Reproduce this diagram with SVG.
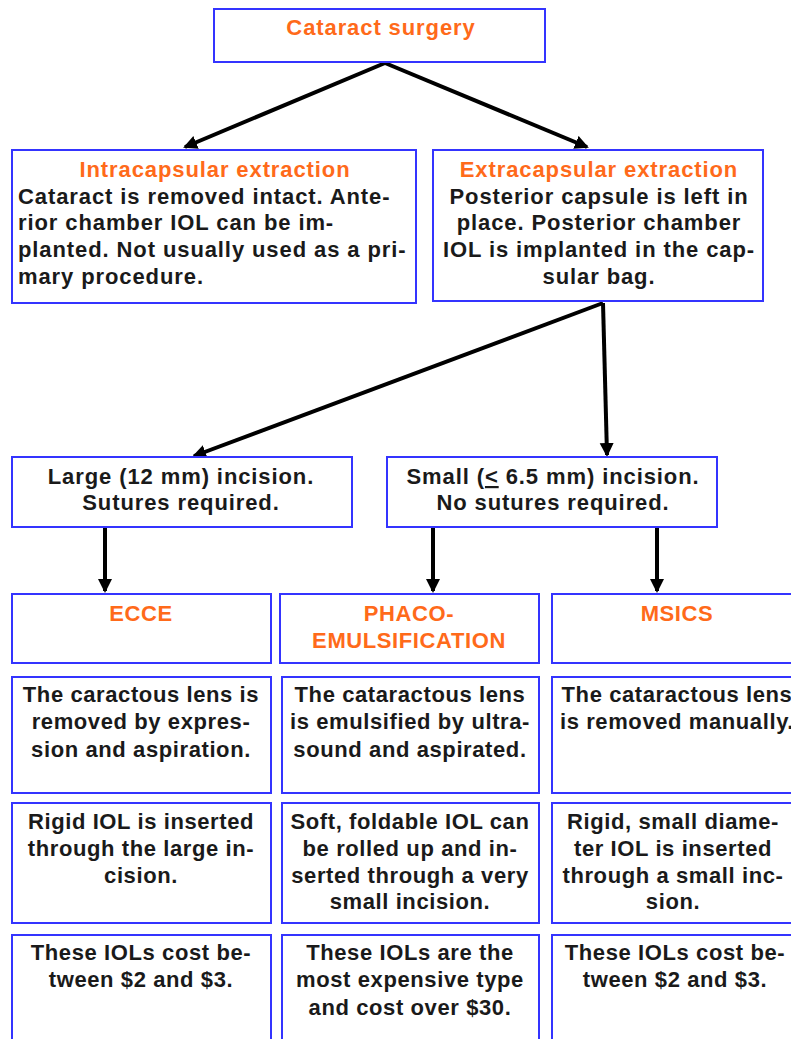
<svg xmlns="http://www.w3.org/2000/svg" width="791" height="1039" viewBox="0 0 791 1039">
<style>
.box{fill:#ffffff;stroke:#3434ff;stroke-width:2}
.t{font-family:"Liberation Sans",Arial,sans-serif;font-weight:bold;font-size:22px;fill:#1a1a1a;letter-spacing:0.9px}
.b{font-family:"Liberation Sans",Arial,sans-serif;font-weight:bold;font-size:22px;fill:#1a1a1a;letter-spacing:0.6px;text-anchor:middle}
.o{fill:#ff6a1a}
.m{text-anchor:middle}
.c{stroke:#000;stroke-width:4;fill:none;marker-end:url(#ah)}
</style>
<defs>
<marker id="ah" markerUnits="userSpaceOnUse" markerWidth="16" markerHeight="16" refX="12" refY="7" orient="auto">
<path d="M0,0 L14,7 L0,14 z" fill="#000"/>
</marker>
</defs>
<rect width="791" height="1039" fill="#ffffff"/>
<g id="connectors">
<line class="c" x1="385" y1="63" x2="185" y2="147"/>
<line class="c" x1="385" y1="63" x2="587" y2="147"/>
<line class="c" x1="603" y1="303" x2="194" y2="456"/>
<line class="c" x1="603" y1="303" x2="607" y2="455"/>
<line class="c" x1="105" y1="527" x2="105" y2="591"/>
<line class="c" x1="433" y1="527" x2="433" y2="591"/>
<line class="c" x1="657" y1="527" x2="657" y2="591"/>
</g>
<g id="n-cataract">
<rect class="box" x="214" y="9" width="331" height="53"/>
<text class="t o m" x="381" y="35">Cataract surgery</text>
</g>
<g id="n-intra">
<rect class="box" x="12" y="150" width="404" height="153"/>
<text class="t o m" x="215" y="177">Intracapsular extraction</text>
<text class="t" x="18" y="204">Cataract is removed intact. Ante-</text>
<text class="t" x="18" y="230">rior chamber IOL can be im-</text>
<text class="t" x="18" y="257">planted. Not usually used as a pri-</text>
<text class="t" x="18" y="284">mary procedure.</text>
</g>
<g id="n-extra">
<rect class="box" x="433" y="150" width="330" height="151"/>
<text class="t o m" x="599" y="177">Extracapsular extraction</text>
<text class="t m" x="599" y="204">Posterior capsule is left in</text>
<text class="t m" x="599" y="230">place. Posterior chamber</text>
<text class="t m" x="599" y="257">IOL is implanted in the cap-</text>
<text class="t m" x="599" y="284">sular bag.</text>
</g>
<g id="n-large">
<rect class="box" x="12" y="457" width="340" height="70"/>
<text class="t m" x="181" y="484">Large (12 mm) incision.</text>
<text class="t m" x="181" y="510">Sutures required.</text>
</g>
<g id="n-small">
<rect class="box" x="387" y="457" width="330" height="70"/>
<text class="t m" x="553" y="484">Small (<tspan text-decoration="underline">&lt;</tspan> 6.5 mm) incision.</text>
<text class="t m" x="553" y="510">No sutures required.</text>
</g>
<g id="n-ecce">
<rect class="box" x="12" y="594" width="259" height="69"/>
<text class="b o" x="141" y="621">ECCE</text>
</g>
<g id="n-phaco">
<rect class="box" x="280" y="594" width="259" height="69"/>
<text class="b o" x="409" y="621">PHACO-</text>
<text class="b o" x="409" y="648">EMULSIFICATION</text>
</g>
<g id="n-msics">
<rect class="box" x="552" y="594" width="250" height="69"/>
<text class="b o" x="677" y="621">MSICS</text>
</g>
<g id="n-ecce-lens">
<rect class="box" x="12" y="677" width="259" height="116"/>
<text class="b" x="141" y="702">The caractous lens is</text>
<text class="b" x="141" y="729">removed by expres-</text>
<text class="b" x="141" y="757">sion and aspiration.</text>
</g>
<g id="n-phaco-lens">
<rect class="box" x="282" y="677" width="257" height="116"/>
<text class="b" x="410" y="702">The cataractous lens</text>
<text class="b" x="410" y="729">is emulsified by ultra-</text>
<text class="b" x="410" y="757">sound and aspirated.</text>
</g>
<g id="n-msics-lens">
<rect class="box" x="552" y="677" width="250" height="116"/>
<text class="b" x="677" y="702">The cataractous lens</text>
<text class="b" x="677" y="729">is removed manually.</text>
</g>
<g id="n-ecce-iol">
<rect class="box" x="12" y="803" width="259" height="120"/>
<text class="b" x="141" y="829">Rigid IOL is inserted</text>
<text class="b" x="141" y="856">through the large in-</text>
<text class="b" x="141" y="883">cision.</text>
</g>
<g id="n-phaco-iol">
<rect class="box" x="282" y="803" width="257" height="120"/>
<text class="b" x="410" y="829">Soft, foldable IOL can</text>
<text class="b" x="410" y="856">be rolled up and in-</text>
<text class="b" x="410" y="883">serted through a very</text>
<text class="b" x="410" y="909">small incision.</text>
</g>
<g id="n-msics-iol">
<rect class="box" x="552" y="803" width="250" height="120"/>
<text class="b" x="673" y="829">Rigid, small diame-</text>
<text class="b" x="673" y="856">ter IOL is inserted</text>
<text class="b" x="673" y="883">through a small inc-</text>
<text class="b" x="673" y="909">sion.</text>
</g>
<g id="n-ecce-cost">
<rect class="box" x="12" y="935" width="259" height="120"/>
<text class="b" x="141" y="960">These IOLs cost be-</text>
<text class="b" x="141" y="987">tween $2 and $3.</text>
</g>
<g id="n-phaco-cost">
<rect class="box" x="282" y="935" width="257" height="120"/>
<text class="b" x="410" y="960">These IOLs are the</text>
<text class="b" x="410" y="987">most expensive type</text>
<text class="b" x="410" y="1015">and cost over $30.</text>
</g>
<g id="n-msics-cost">
<rect class="box" x="552" y="935" width="250" height="120"/>
<text class="b" x="675" y="960">These IOLs cost be-</text>
<text class="b" x="675" y="987">tween $2 and $3.</text>
</g>
</svg>
